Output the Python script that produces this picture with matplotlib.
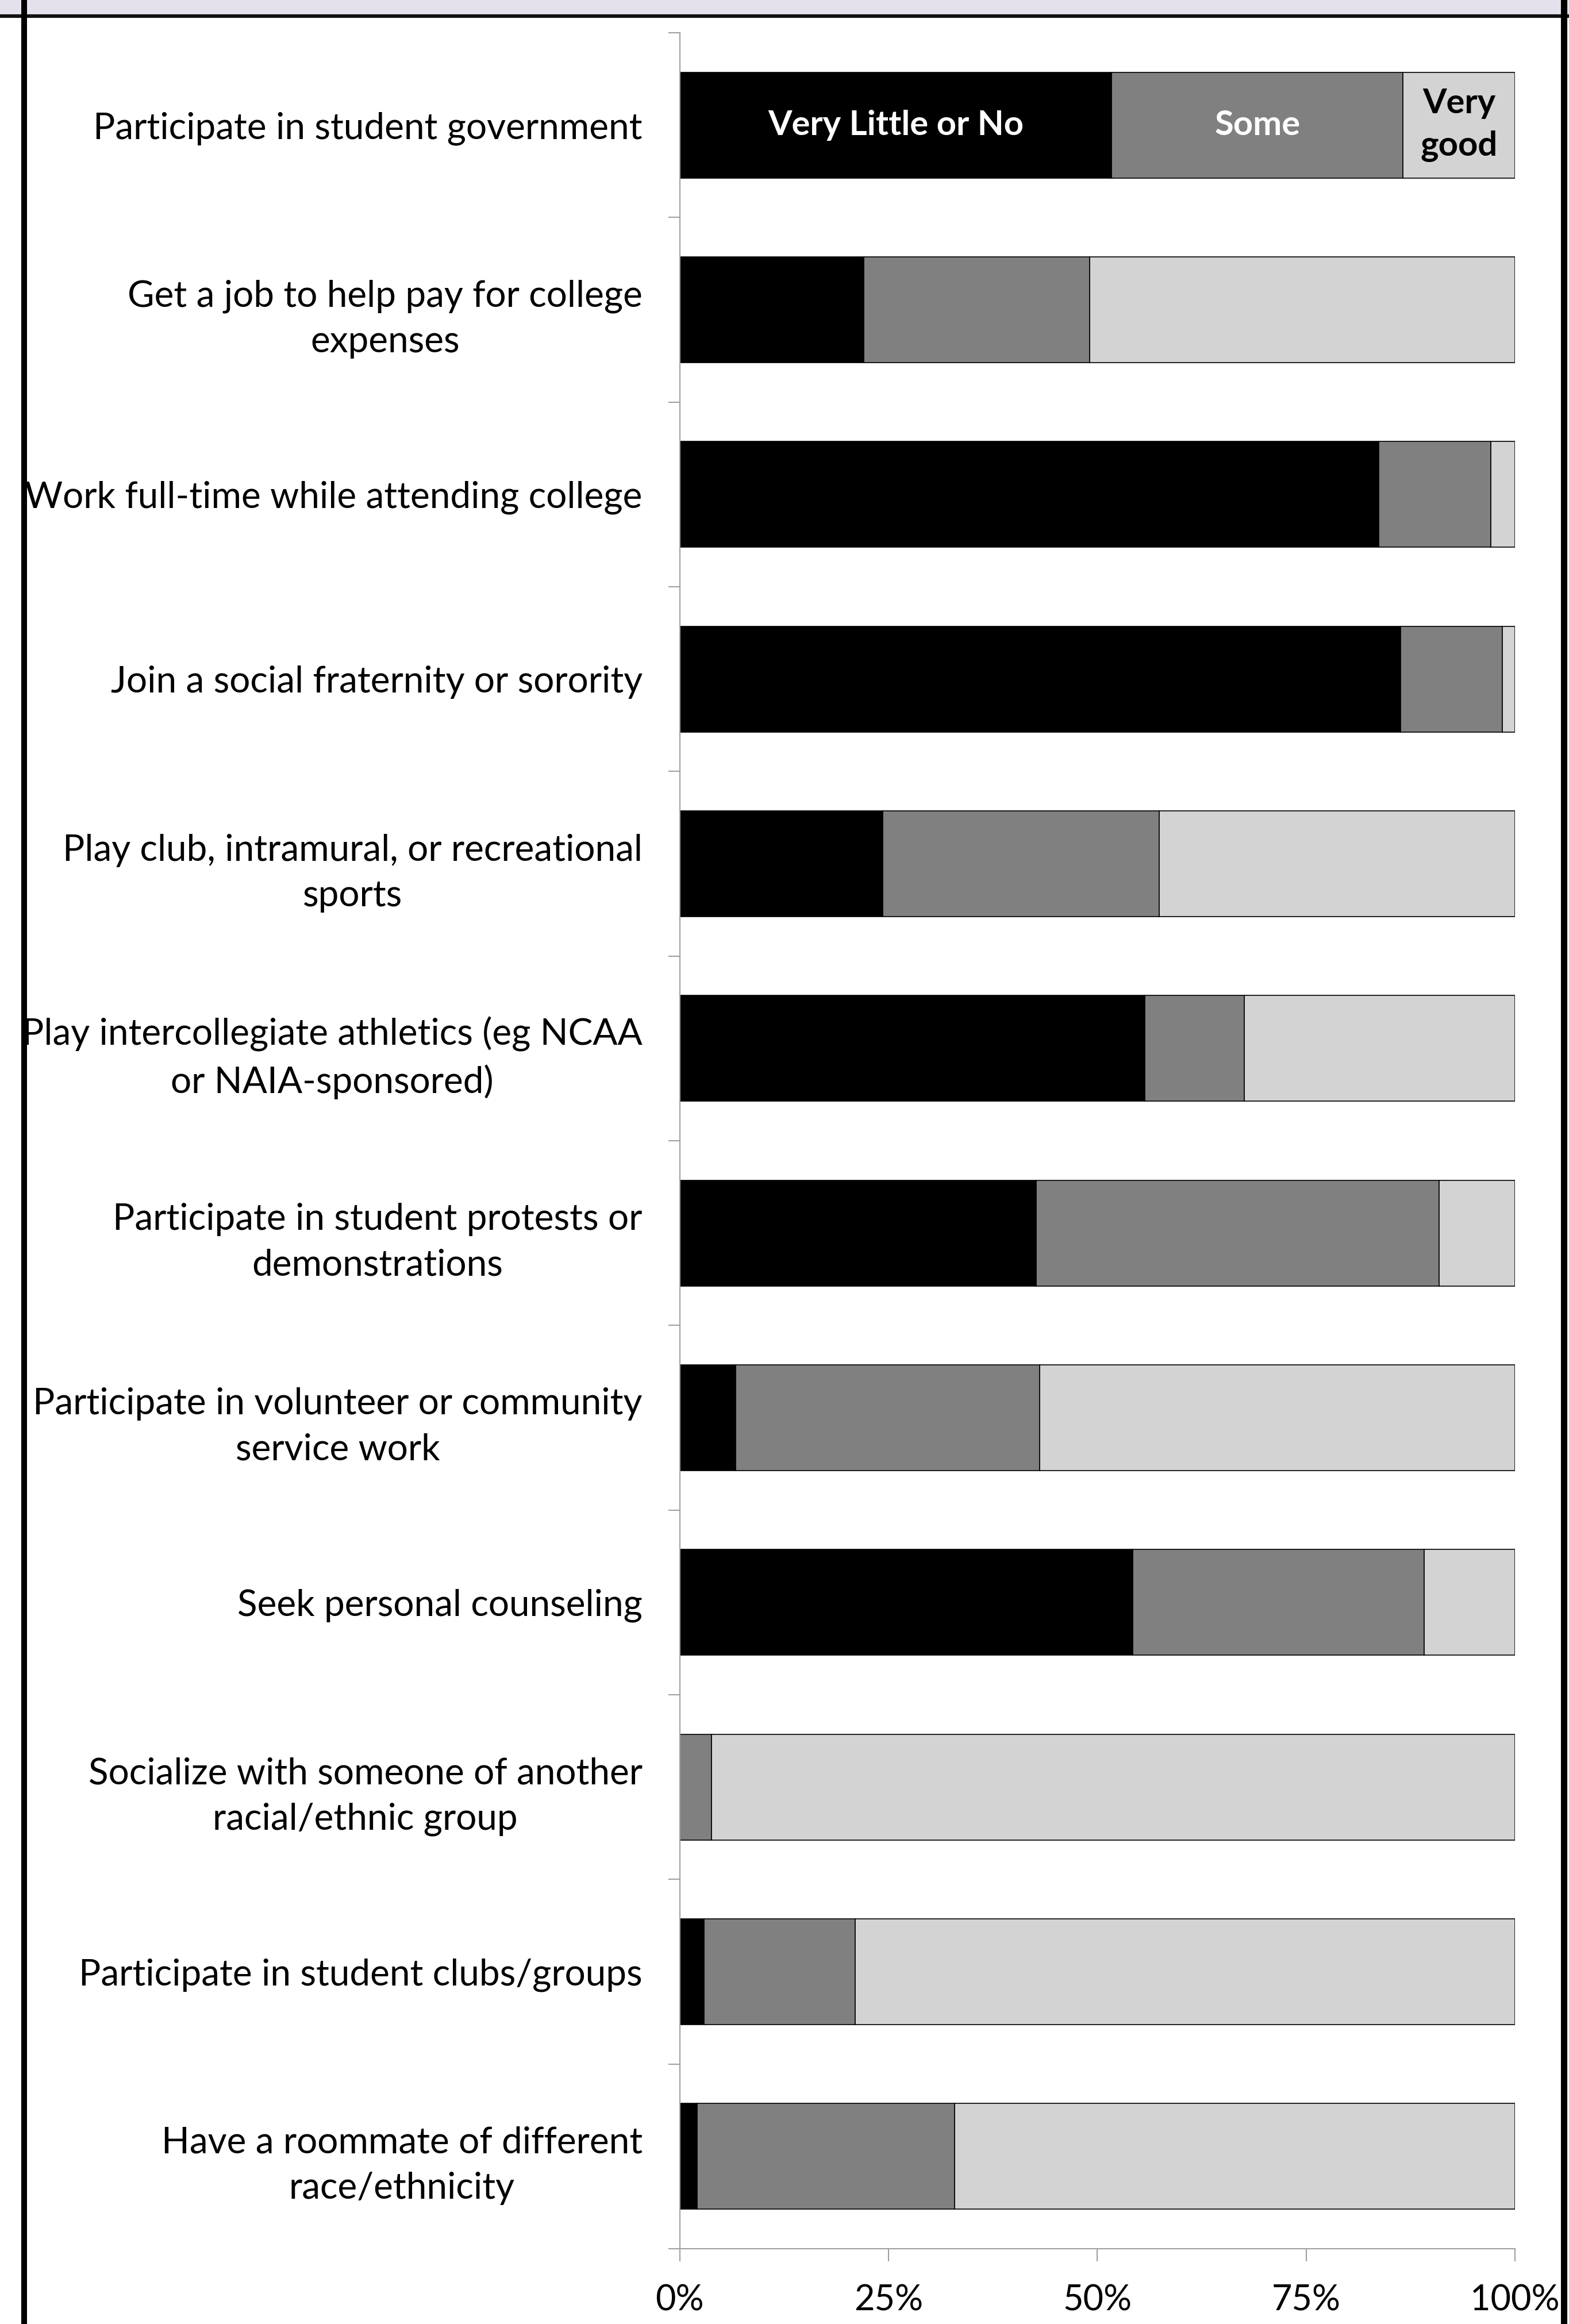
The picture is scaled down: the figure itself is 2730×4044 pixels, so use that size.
import matplotlib.pyplot as plt
import matplotlib.patches as patches
from matplotlib.lines import Line2D
import numpy as np

plt.rcParams['font.family'] = ['Lato', 'DejaVu Sans']

categories = [
    "Participate in student government",
    "Get a job to help pay for college\nexpenses",
    "Work full-time while attending college",
    "Join a social fraternity or sorority",
    "Play club, intramural, or recreational\nsports",
    "Play intercollegiate athletics (eg NCAA\nor NAIA-sponsored)",
    "Participate in student protests or\ndemonstrations",
    "Participate in volunteer or community\nservice work",
    "Seek personal counseling",
    "Socialize with someone of another\nracial/ethnic group",
    "Participate in student clubs/groups",
    "Have a roommate of different\nrace/ethnicity",
]
series_names = ["Very Little or No", "Some", "Very\ngood"]
very_little = [51.7, 22.0, 83.7, 86.3, 24.3, 55.7, 42.7, 6.7, 54.2, 0.0, 2.9, 2.1]
some = [34.9, 27.1, 13.4, 12.2, 33.1, 11.9, 48.2, 36.4, 34.9, 3.8, 18.1, 30.8]
very_good = [13.4, 50.9, 2.9, 1.5, 42.6, 32.4, 9.1, 56.9, 10.9, 96.2, 79.0, 67.1]
x_ticks = [0, 25, 50, 75, 100]
x_ticklabels = ["0%", "25%", "50%", "75%", "100%"]

colors = ['#000000', '#808080', '#D3D3D3']
text_colors = ['white', 'white', 'black']
label_fontsize = 46
bar_fontsize = 43

fig = plt.figure(figsize=(27.3, 40.44), dpi=100)
ax = fig.add_axes([0.4333, 0.0324, 0.5323, 0.9535])

y = np.arange(len(categories))
left = np.zeros(len(categories))
for vals, col, name, tcol in zip([very_little, some, very_good], colors, series_names, text_colors):
    vals = np.array(vals)
    ax.barh(y, vals, left=left, height=0.573, color=col, edgecolor='black', linewidth=1.2)
    # segment names only written into the first bar
    ax.text(left[0] + vals[0] / 2, y[0], name, ha='center', va='center',
            color=tcol, fontsize=bar_fontsize, fontweight='bold', linespacing=1.45)
    left = left + vals

ax.set_xlim(0, 100)
ax.set_ylim(len(categories) - 0.5, -0.5)

ax.set_yticks(y)
ax.set_yticklabels(categories, fontsize=label_fontsize, ha='right', multialignment='center',
                   linespacing=1.45)
ax.tick_params(axis='y', which='major', length=0, pad=47)
ax.set_yticks(np.arange(-0.5, len(categories)), minor=True)
ax.tick_params(axis='y', which='minor', length=14.4, width=1.5, color='#A0A0A0')

ax.set_xticks(x_ticks)
ax.set_xticklabels(x_ticklabels, fontsize=44)
ax.tick_params(axis='x', length=16, width=1.5, color='#A0A0A0', pad=28)

for side in ['top', 'right']:
    ax.spines[side].set_visible(False)
for side in ['left', 'bottom']:
    ax.spines[side].set_color('#A0A0A0')
    ax.spines[side].set_linewidth(1.5)

# outer frame and header band
W, H = 2730.0, 4044.0
fig.patches.append(patches.Rectangle((0, 1 - 28 / H), 1, 28 / H, transform=fig.transFigure,
                                     facecolor='#E4E0EC', edgecolor='none', zorder=0))
fig.lines.append(Line2D([0, 1], [1 - 28 / H, 1 - 28 / H], transform=fig.transFigure,
                        color='#111111', linewidth=4.5))
fig.lines.append(Line2D([42 / W, 42 / W], [0, 1], transform=fig.transFigure,
                        color='black', linewidth=7.2))
fig.lines.append(Line2D([2721 / W, 2721 / W], [0, 1], transform=fig.transFigure,
                        color='black', linewidth=8))

fig.savefig("out.png", dpi=100)
